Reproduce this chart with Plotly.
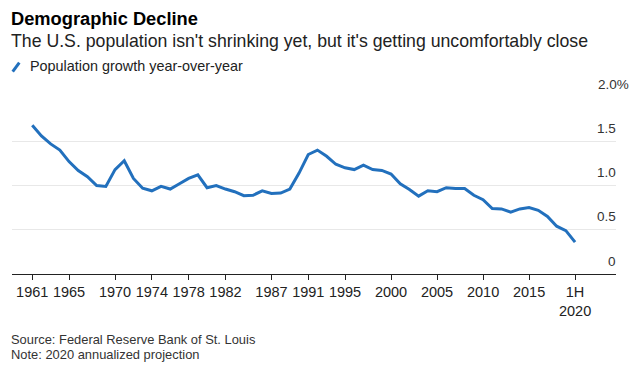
import plotly.graph_objects as go

years = list(range(1961, 2021))
growth = [1.68, 1.56, 1.47, 1.40, 1.27, 1.17, 1.10, 1.00, 0.99, 1.18,
          1.28, 1.08, 0.97, 0.94, 0.99, 0.96, 1.02, 1.08, 1.12, 0.975,
          1.00, 0.96, 0.93, 0.885, 0.89, 0.94, 0.91, 0.915, 0.96, 1.14,
          1.35, 1.40, 1.33, 1.24, 1.20, 1.18, 1.23, 1.18, 1.17, 1.13,
          1.02, 0.955, 0.88, 0.94, 0.93, 0.975, 0.965, 0.965, 0.89, 0.84,
          0.74, 0.735, 0.70, 0.735, 0.75, 0.72, 0.65, 0.54, 0.49, 0.36]

x_tick_vals = [1961, 1965, 1970, 1974, 1978, 1982, 1987, 1991, 1995, 2000, 2005, 2010, 2015, 2020]
x_tick_text = ["1961", "1965", "1970", "1974", "1978", "1982", "1987", "1991", "1995",
               "2000", "2005", "2010", "2015", "1H<br>2020"]
y_tick_vals = [0, 0.5, 1.0, 1.5, 2.0]
y_tick_text = ["0", "0.5", "1.0", "1.5", "2.0%"]

LINE = "#2270bd"
FONT = "Liberation Sans, Arial, sans-serif"

# page body has an 8px margin; figure is sized so the page fills the window
OFF = 8
W, H = 640 - OFF, 367 - OFF
ML, MR, MT, MB = 12 - OFF, 24, 97 - OFF, 93
PW = W - ML - MR
PH = H - MT - MB


def px_x(px):
    return (px - OFF - ML) / PW


def px_y(py):
    return (H - MB - (py - OFF)) / PH


fig = go.Figure()
fig.add_trace(go.Scatter(x=years, y=growth, mode="lines",
                         line=dict(color=LINE, width=3), showlegend=False,
                         hoverinfo="skip"))

annotations = []
for v, t in zip(y_tick_vals, y_tick_text):
    if t.endswith("%"):
        annotations.append(dict(x=1.0, xref="paper", y=v, yref="y", text=t,
                                showarrow=False, xanchor="left", yanchor="middle",
                                xshift=-20, yshift=13,
                                font=dict(family=FONT, size=13.5, color="#333333")))
    else:
        annotations.append(dict(x=1.0, xref="paper", y=v, yref="y", text=t,
                                showarrow=False, xanchor="right", yanchor="middle",
                                xshift=2, yshift=13,
                                font=dict(family=FONT, size=13.5, color="#333333")))

annotations += [
    dict(x=px_x(9), y=px_y(18), xref="paper", yref="paper", text="<b>Demographic Decline</b>",
         showarrow=False, xanchor="left", yanchor="middle",
         font=dict(family=FONT, size=18.3, color="#000000")),
    dict(x=px_x(9), y=px_y(41), xref="paper", yref="paper",
         text="The U.S. population isn't shrinking yet, but it's getting uncomfortably close",
         showarrow=False, xanchor="left", yanchor="middle",
         font=dict(family=FONT, size=17.7, color="#222222")),
    dict(x=px_x(28), y=px_y(66), xref="paper", yref="paper",
         text="Population growth year-over-year",
         showarrow=False, xanchor="left", yanchor="middle",
         font=dict(family=FONT, size=14.4, color="#222222")),
    dict(x=px_x(9), y=px_y(339), xref="paper", yref="paper",
         text="Source: Federal Reserve Bank of St. Louis",
         showarrow=False, xanchor="left", yanchor="middle",
         font=dict(family=FONT, size=12.9, color="#333333")),
    dict(x=px_x(9), y=px_y(354), xref="paper", yref="paper",
         text="Note: 2020 annualized projection",
         showarrow=False, xanchor="left", yanchor="middle",
         font=dict(family=FONT, size=12.9, color="#333333")),
]

fig.add_shape(type="line", xref="paper", yref="paper",
              x0=px_x(12.7), y0=px_y(71.7), x1=px_x(19.3), y1=px_y(62.7),
              line=dict(color=LINE, width=3))

fig.update_layout(
    width=W, height=H,
    margin=dict(l=ML, r=MR, t=MT, b=MB, pad=0),
    paper_bgcolor="white", plot_bgcolor="white",
    annotations=annotations,
    xaxis=dict(range=[1958.8, 2024.45], tickvals=x_tick_vals, ticktext=x_tick_text,
               showgrid=False, zeroline=False, showline=True, linecolor="#222222",
               linewidth=1, ticks="outside", ticklen=5, tickcolor="#222222",
               tickfont=dict(family=FONT, size=14.5, color="#222222"), fixedrange=True),
    yaxis=dict(range=[0, 2.0], tickvals=y_tick_vals, showticklabels=False,
               showgrid=True, gridcolor="#e8e8e8", gridwidth=1, zeroline=False,
               fixedrange=True),
)

fig.write_html("out.html")
